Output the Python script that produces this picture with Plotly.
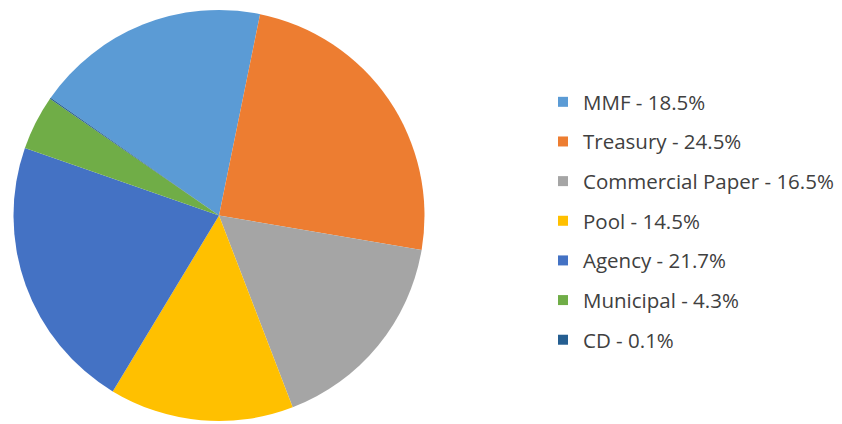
import plotly.graph_objects as go

categories = ["MMF", "Treasury", "Commercial Paper", "Pool", "Agency", "Municipal", "CD"]
shares = [18.5, 24.5, 16.5, 14.5, 21.7, 4.3, 0.1]
colors = ["#5B9BD5", "#ED7D31", "#A5A5A5", "#FFC000", "#4472C4", "#70AD47", "#255E91"]

labels = [f"{c} - {v}%" for c, v in zip(categories, shares)]

W, H = 842, 424
fig = go.Figure()
fig.add_trace(go.Pie(
    labels=labels, values=shares, sort=False, direction="clockwise", rotation=-55,
    marker=dict(colors=colors, line=dict(width=0)), textinfo="none",
    showlegend=False, hoverinfo="label",
    domain=dict(x=[13 / W, 425 / W], y=[3 / H, 414 / H]),
))
for lab, col in zip(labels, colors):
    fig.add_trace(go.Scatter(
        x=[None], y=[None], mode="markers", name=lab, legendgroup=lab,
        marker=dict(symbol="square", size=10, color=col), showlegend=True,
    ))

fig.update_layout(
    width=W, height=H, margin=dict(l=0, r=0, t=0, b=0),
    paper_bgcolor="white", plot_bgcolor="white",
    xaxis=dict(visible=False), yaxis=dict(visible=False),
    legend=dict(
        x=543 / W, xanchor="left", y=(H - 221) / H, yanchor="middle",
        font=dict(family="Open Sans", size=20.5, color="#404040"),
        tracegroupgap=10, itemsizing="trace", bgcolor="rgba(0,0,0,0)",
    ),
)
fig.write_html("out.html", config={"displayModeBar": False},
               post_script="document.body.style.margin='0';")
